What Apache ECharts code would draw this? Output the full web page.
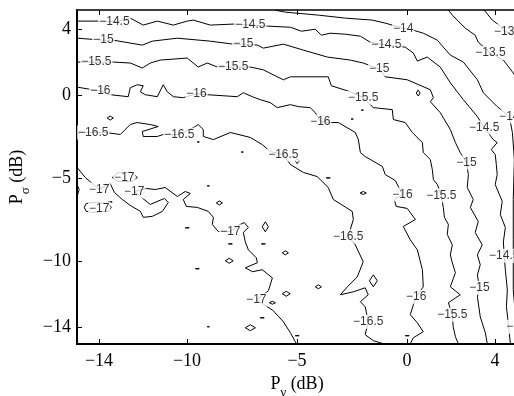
<!DOCTYPE html>
<html><head><meta charset="utf-8">
<script src="https://cdn.jsdelivr.net/npm/echarts/dist/echarts.min.js"></script>
<style>html,body{margin:0;padding:0;background:#fff}#c{width:514px;height:396px}</style>
</head><body><div id="c"></div>
<script>
// Axis ticks
const xTicks = [-14, -10, -5, 0, 4];
const yTicks = [-14, -10, -5, 0, 4];

// Contour polylines (x = P_gamma dB, y = P_sigma dB)
const lineM13 = [[3.51,5.14],[3.88,4.54],[4.24,4.18],[4.42,3.87],[4.97,3.57]];
const lineM135 = [[1.88,5.14],[2.06,4.84],[2.65,4.05],[3.10,3.63],[3.24,3.21],[3.79,2.55],[4.38,2.13],[4.79,1.42],[4.97,1.06]];
const lineM14 = [[-5.99,5.14],[-5.53,5.02],[-4.03,4.84],[-2.80,4.66],[-1.58,4.54],[-0.99,4.36],[-0.17,4.05],[0.29,3.93],[0.74,3.75],[1.38,3.33],[1.65,2.91],[1.97,2.43],[2.56,2.01],[3.20,0.94],[3.47,0.16],[4.10,-0.68],[4.65,-1.28],[4.79,-2.24],[4.88,-3.87],[4.83,-6.28],[4.83,-8.72],[4.83,-11.73],[4.97,-13.96],[4.88,-14.98]];
const lineM145 = [[-15,4.48],[-13.94,4.48],[-13.30,4.42],[-12.58,4.66],[-11.99,4.24],[-11.35,4.48],[-10.62,4.24],[-9.99,4.48],[-9.71,4.54],[-8.94,4.24],[-7.90,4.30],[-7.12,4.24],[-6.35,4.18],[-5.30,4.11],[-4.80,3.87],[-4.17,3.99],[-3.89,3.63],[-3.49,3.75],[-2.80,3.69],[-2.12,3.57],[-1.67,3.21],[-0.94,3.03],[-0.08,2.91],[0.29,2.55],[0.47,2.07],[0.92,2.31],[1.51,1.71],[1.97,0.76],[2.56,-0.26],[3.20,-1.28],[3.51,-1.94],[3.92,-2.67],[4.10,-2.85],[3.83,-3.27],[4.01,-3.57],[4.06,-4.17],[4.10,-4.78],[4.01,-5.38],[4.33,-6.40],[4.24,-7.19],[4.47,-7.97],[4.38,-8.84],[4.42,-9.68],[4.47,-10.52],[4.56,-11.73],[4.52,-12.75],[4.60,-13.72],[4.70,-14.98]];
const lineM15 = [[-15,3.45],[-13.80,3.33],[-13.35,3.33],[-12.03,3.03],[-11.58,3.27],[-10.44,3.45],[-8.94,3.27],[-7.90,3.09],[-7.44,3.09],[-6.80,3.03],[-6.53,2.85],[-5.62,3.09],[-4.71,2.73],[-3.62,2.31],[-2.58,2.13],[-1.99,1.95],[-1.26,1.59],[-0.99,1.12],[0.01,0.94],[1.06,0.34],[1.20,-0.14],[1.06,-0.38],[1.51,-1.04],[1.97,-2.06],[2.20,-2.85],[2.42,-3.45],[2.70,-4.05],[2.79,-4.78],[2.74,-5.56],[3.01,-6.28],[2.88,-6.76],[3.24,-7.61],[3.10,-8.27],[3.42,-9.02],[3.20,-9.62],[3.33,-10.22],[3.20,-10.83],[3.29,-11.61],[3.20,-12.15],[3.33,-13.36],[3.56,-14.32],[3.65,-14.98]];
const lineM155 = [[-15,2.01],[-14.12,2.01],[-13.35,2.01],[-12.58,1.95],[-12.03,1.65],[-11.67,1.95],[-11.21,2.13],[-9.99,2.25],[-9.49,1.71],[-9.08,1.95],[-8.62,1.71],[-7.90,1.71],[-7.12,1.71],[-6.53,1.54],[-5.62,0.94],[-5.30,1.12],[-3.58,1.12],[-3.44,0.58],[-2.58,0.22],[-1.99,-0.14],[-1.53,-0.74],[-0.67,-0.86],[-0.62,-1.46],[-0.08,-1.64],[0.24,-2.24],[0.70,-2.85],[0.74,-3.45],[1.06,-3.87],[1.15,-4.47],[1.20,-5.08],[1.38,-5.38],[1.56,-6.04],[1.65,-6.76],[1.70,-7.36],[1.88,-7.79],[1.83,-8.39],[2.06,-9.02],[1.97,-9.62],[2.06,-10.10],[2.20,-10.70],[1.97,-11.55],[2.42,-12.03],[1.88,-12.51],[2.06,-13.23],[2.10,-13.96],[2.20,-14.56],[2.33,-14.98]];
const lineM16 = [[-15,0.50],[-13.94,0.26],[-13.49,0.04],[-12.67,-0.08],[-12.58,0.46],[-12.26,0.64],[-11.99,0.58],[-12.12,0.22],[-11.90,0.04],[-11.35,-0.08],[-11.08,0.64],[-10.90,0.22],[-10.62,-0.08],[-10.17,-0.14],[-9.57,0.10],[-9.08,0.04],[-7.71,-0.08],[-7.44,0.16],[-7.03,-0.08],[-6.67,-0.26],[-6.21,-0.44],[-5.90,-0.74],[-5.30,-0.56],[-4.94,-0.68],[-4.40,-0.74],[-4.17,-1.04],[-3.94,-1.58],[-3.49,-1.64],[-3.12,-1.64],[-2.35,-2.24],[-2.21,-2.67],[-2.12,-3.45],[-1.90,-3.69],[-1.12,-4.29],[-0.99,-4.78],[-0.53,-5.14],[-0.21,-5.98],[-0.58,-6.28],[-0.49,-6.70],[0.01,-6.82],[0.38,-7.49],[-0.17,-7.91],[0.15,-8.72],[0.47,-9.32],[0.70,-10.52],[0.74,-11.55],[0.42,-12.15],[0.29,-12.63],[0.15,-13.23],[0.47,-13.72],[0.74,-14.26],[0.29,-14.62],[0.15,-14.98]];
const lineM165 = [[-15,-2.24],[-14.26,-2.24],[-13.71,-2.24],[-13.03,-2.36],[-12.58,-1.76],[-12.26,-1.64],[-11.67,-1.76],[-11.31,-1.88],[-12.03,-2.18],[-11.99,-2.48],[-11.35,-2.48],[-11.08,-2.36],[-10.35,-2.36],[-9.62,-1.88],[-9.49,-1.76],[-9.26,-2.06],[-9.26,-2.48],[-8.80,-2.67],[-8.03,-2.24],[-7.12,-2.54],[-6.58,-2.97],[-6.21,-3.39],[-5.62,-3.57],[-5.30,-4.17],[-4.71,-4.65],[-4.08,-4.90],[-3.58,-5.56],[-3.35,-6.28],[-2.49,-7.00],[-2.44,-7.49],[-2.67,-8.51],[-2.35,-9.02],[-1.99,-10.04],[-2.26,-10.95],[-2.71,-11.55],[-3.03,-12.03],[-2.44,-11.85],[-1.90,-11.61],[-1.76,-12.03],[-2.12,-12.45],[-1.90,-12.75],[-1.76,-13.66],[-1.90,-14.44],[-1.53,-14.80],[-1.08,-14.98]];
const lineM17 = [[-15,-4.35],[-14.62,-4.96],[-14.30,-5.32],[-13.99,-5.68],[-13.49,-5.32],[-13.30,-5.86],[-12.94,-6.28],[-12.58,-6.64],[-12.12,-7.00],[-11.99,-7.36],[-11.58,-7.30],[-11.12,-7.00],[-10.85,-6.46],[-11.03,-6.22],[-11.67,-6.58],[-12.12,-6.10],[-12.40,-5.80],[-11.85,-5.62],[-11.44,-5.68],[-10.99,-5.56],[-10.44,-6.10],[-10.08,-5.80],[-9.85,-5.92],[-10.17,-6.28],[-10.03,-6.70],[-9.53,-6.76],[-9.03,-7.00],[-8.80,-7.36],[-8.85,-7.79],[-8.58,-8.21],[-8.03,-8.21],[-7.58,-7.79],[-7.40,-7.67],[-7.21,-7.97],[-7.44,-8.27],[-7.35,-8.84],[-7.21,-9.32],[-6.85,-9.80],[-6.80,-10.10],[-7.35,-10.40],[-7.03,-10.64],[-6.58,-10.52],[-6.12,-11.01],[-6.30,-11.79],[-6.85,-12.33],[-6.49,-12.63],[-6.08,-12.99],[-5.62,-13.66],[-5.30,-14.32],[-5.03,-14.98]];
const loopM17a = [[-13.40,-4.96],[-13.12,-4.65],[-12.49,-4.65],[-12.26,-4.96],[-12.49,-5.20],[-13.12,-5.20],[-13.40,-4.96]];
const loopM17b = [[-14.26,-6.46],[-14.58,-6.52],[-14.67,-6.76],[-14.58,-7.00],[-14.26,-7.06],[-13.58,-7.00],[-13.44,-6.76],[-13.58,-6.52],[-14.26,-6.46]];
const arcM17 = [[-15,-5.38],[-14.90,-5.68],[-15,-6.10]];
const smallLoops = [
  [[-13.63,-1.37],[-13.49,-1.25],[-13.35,-1.37],[-13.49,-1.49],[-13.63,-1.37]],
  [[-9.54,-2.81],[-9.49,-2.75],[-9.44,-2.81],[-9.49,-2.87],[-9.54,-2.81]],
  [[-7.54,-3.42],[-7.49,-3.36],[-7.44,-3.42],[-7.49,-3.48],[-7.54,-3.42]],
  [[-9.08,-5.46],[-9.03,-5.40],[-8.98,-5.46],[-9.03,-5.52],[-9.08,-5.46]],
  [[-8.67,-6.49],[-8.53,-6.37],[-8.39,-6.49],[-8.53,-6.61],[-8.67,-6.49]],
  [[-10.08,-7.99],[-9.99,-7.87],[-9.90,-7.99],[-9.99,-8.11],[-10.08,-7.99]],
  [[-8.12,-8.96],[-8.03,-8.84],[-7.94,-8.96],[-8.03,-9.08],[-8.12,-8.96]],
  [[-6.58,-7.93],[-6.44,-7.63],[-6.30,-7.93],[-6.44,-8.23],[-6.58,-7.93]],
  [[-6.62,-8.96],[-6.53,-8.87],[-6.44,-8.96],[-6.53,-9.05],[-6.62,-8.96]],
  [[-5.67,-9.50],[-5.53,-9.38],[-5.39,-9.50],[-5.53,-9.62],[-5.67,-9.50]],
  [[-8.26,-9.98],[-8.08,-9.83],[-7.90,-9.98],[-8.08,-10.13],[-8.26,-9.98]],
  [[-9.62,-10.46],[-9.53,-10.42],[-9.44,-10.46],[-9.53,-10.50],[-9.62,-10.46]],
  [[-9.08,-13.96],[-9.03,-13.90],[-8.98,-13.96],[-9.03,-14.02],[-9.08,-13.96]],
  [[-7.35,-14.02],[-7.12,-13.84],[-6.89,-14.02],[-7.12,-14.20],[-7.35,-14.02]],
  [[-6.67,-13.42],[-6.58,-13.30],[-6.49,-13.42],[-6.58,-13.54],[-6.67,-13.42]],
  [[-6.26,-12.51],[-6.12,-12.42],[-5.98,-12.51],[-6.12,-12.60],[-6.26,-12.51]],
  [[-5.67,-11.97],[-5.49,-11.82],[-5.31,-11.97],[-5.49,-12.12],[-5.67,-11.97]],
  [[-4.17,-11.55],[-4.03,-11.43],[-3.89,-11.55],[-4.03,-11.67],[-4.17,-11.55]],
  [[-1.71,-11.19],[-1.53,-10.83],[-1.35,-11.19],[-1.53,-11.55],[-1.71,-11.19]],
  [[-5.08,-14.50],[-4.99,-14.38],[-4.90,-14.50],[-4.99,-14.62],[-5.08,-14.50]],
  [[-0.08,-14.50],[0.01,-14.38],[0.10,-14.50],[0.01,-14.62],[-0.08,-14.50]],
  [[-5.08,-3.96],[-4.99,-3.81],[-4.90,-3.96],[-4.99,-4.11],[-5.08,-3.96]],
  [[-3.67,-4.98],[-3.58,-4.86],[-3.49,-4.98],[-3.58,-5.10],[-3.67,-4.98]],
  [[-2.13,-5.89],[-1.99,-5.80],[-1.85,-5.89],[-1.99,-5.98],[-2.13,-5.89]],
  [[0.42,0.14],[0.51,0.32],[0.60,0.14],[0.51,-0.04],[0.42,0.14]],
  [[-2.08,-0.89],[-2.03,-0.83],[-1.98,-0.89],[-2.03,-0.95],[-2.08,-0.89]],
  [[-2.54,-1.43],[-2.49,-1.37],[-2.44,-1.43],[-2.49,-1.49],[-2.54,-1.43]],
  [[-13.58,-6.43],[-13.49,-6.31],[-13.40,-6.43],[-13.49,-6.55],[-13.58,-6.43]]
];

// Inline contour labels
const labelLevels = [-14.5,-14.5,-14.5,-14.5,-14.5, -14,-14,-14, -13.5, -13,
  -15,-15,-15,-15,-15, -15.5,-15.5,-15.5,-15.5,-15.5, -16,-16,-16,-16,-16,
  -16.5,-16.5,-16.5,-16.5,-16.5, -17,-17,-17,-17,-17,-17];
const labelX = [-13.30,-7.12,-0.94,3.51,4.42, -0.17,4.65,4.97, 3.79, 4.42,
  -13.80,-7.44,-1.26,2.70,3.29, -14.12,-7.90,-1.99,1.56,2.06, -13.94,-9.57,-3.94,-0.21,0.42,
  -14.26,-10.35,-5.62,-2.67,-1.76, -13.99,-12.85,-12.40,-8.03,-13.99,-6.85];
const labelY = [4.42,4.24,3.03,-1.94,-9.68, 4.05,-1.28,-13.96, 2.55, 3.87,
  3.33,3.09,1.59,-4.05,-11.61, 2.01,1.71,-0.14,-6.04,-13.23, 0.26,0.10,-1.58,-5.98,-12.15,
  -2.24,-2.36,-3.57,-8.51,-13.66, -5.68,-4.96,-5.80,-8.21,-6.82,-12.33];

const MINUS = '\u2212';
const fmt = v => (v < 0 ? MINUS + Math.abs(v) : String(v));

const chart = echarts.init(document.getElementById('c'), null, {renderer: 'canvas'});

const polylines = [lineM13, lineM135, lineM14, lineM145, lineM15, lineM155, lineM16, lineM165, lineM17,
  loopM17a, loopM17b, arcM17].concat(smallLoops);

const series = polylines.map(d => ({
  type: 'line', data: d, symbol: 'none', showSymbol: false, silent: true,
  animation: false, clip: true,
  lineStyle: {color: '#000', width: 1}, z: 2
}));

series.push({
  type: 'scatter', silent: true, animation: false, z: 10,
  symbol: 'circle', symbolSize: 1, itemStyle: {color: 'rgba(255,255,255,0)'},
  data: labelX.map((x, i) => [x, labelY[i], labelLevels[i]]),
  label: {
    show: true, position: 'inside',
    formatter: p => fmt(p.value[2]),
    color: '#000', fontSize: 12, fontFamily: 'Liberation Sans, Arial, sans-serif',
    backgroundColor: '#fff', padding: [1, 1]
  },
  labelLayout: {hideOverlap: false}
});

const serif = 'Liberation Serif, Times New Roman, serif';
const nameRich = {
  p: {fontSize: 18, fontFamily: serif, color: '#000', verticalAlign: 'top', lineHeight: 20},
  s: {fontSize: 13, fontFamily: serif, color: '#000', verticalAlign: 'top', lineHeight: 14, padding: [11, 0, 0, 0]}
};

chart.setOption({
  backgroundColor: '#fff',
  animation: false,
  grid: {left: 77, top: 10, width: 440, height: 334, containLabel: false, outerBoundsMode: 'none'},
  xAxis: [{
    type: 'value', min: -15, max: 5, position: 'bottom',
    axisLine: {show: true, onZero: false, lineStyle: {color: '#000', width: 2}},
    axisTick: {show: true, inside: true, length: 5, customValues: xTicks, lineStyle: {color: '#000', width: 1}},
    axisLabel: {show: true, customValues: xTicks, formatter: fmt, color: '#000', fontSize: 18, fontFamily: serif, margin: 8},
    splitLine: {show: false},
    name: '{p|P}{s|\u03b3}{p| (dB)}', nameLocation: 'middle', nameGap: 22,
    nameTextStyle: {color: '#000', fontSize: 18, fontFamily: serif, rich: nameRich}
  }, {
    type: 'value', min: -15, max: 5, position: 'top',
    axisLine: {show: true, onZero: false, lineStyle: {color: '#000', width: 1.5}},
    axisTick: {show: true, inside: true, length: 5, customValues: xTicks, lineStyle: {color: '#000', width: 1}},
    axisLabel: {show: false},
    splitLine: {show: false}
  }],
  yAxis: [{
    type: 'value', min: -15, max: 5.15, position: 'left',
    axisLine: {show: true, onZero: false, lineStyle: {color: '#000', width: 2}},
    axisTick: {show: true, inside: true, length: 5, customValues: yTicks, lineStyle: {color: '#000', width: 1}},
    axisLabel: {show: true, customValues: yTicks, formatter: fmt, color: '#000', fontSize: 18, fontFamily: serif, margin: 6},
    splitLine: {show: false},
    name: '{p|P}{s|\u03c3}{p| (dB)}', nameLocation: 'middle', nameGap: 48,
    nameTextStyle: {color: '#000', fontSize: 18, fontFamily: serif, rich: nameRich}
  }],
  series: series
});
</script></body></html>
